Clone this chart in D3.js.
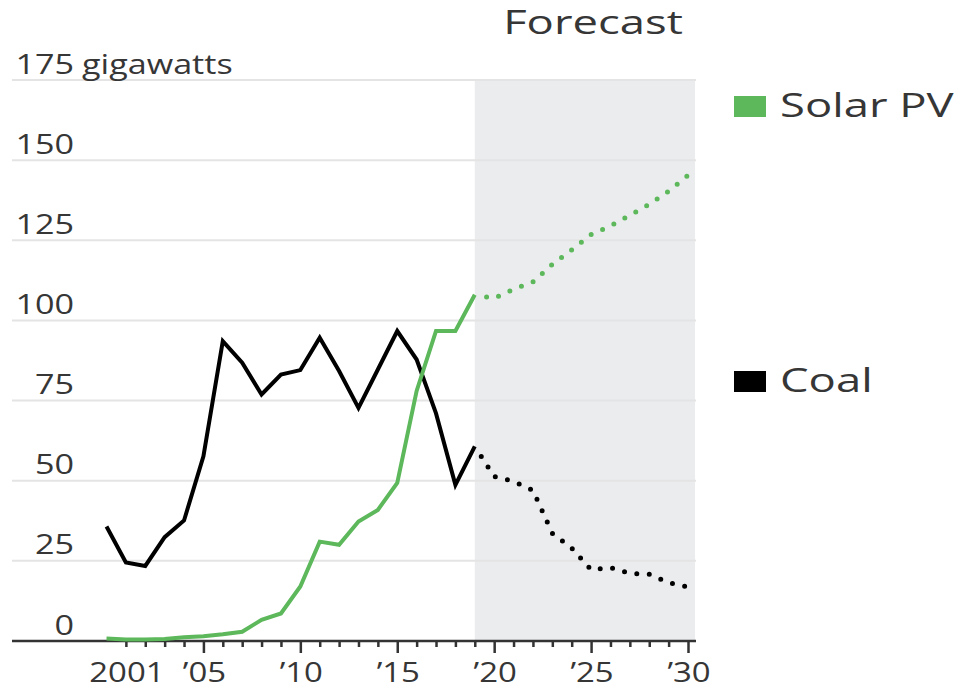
<!DOCTYPE html>
<html>
<head>
<meta charset="utf-8">
<title>Solar PV vs Coal</title>
<script src="https://d3js.org/d3.v7.min.js"></script>
<style>
  body { margin: 0; background: #fff; }
  text { font-family: "Open Sans", "DejaVu Sans", sans-serif; fill: #363636; }
</style>
</head>
<body>
<div id="chart"></div>
<script>
// data (gigawatts)
var actualYears = [2000, 2001, 2002, 2003, 2004, 2005, 2006, 2007, 2008, 2009,
                   2010, 2011, 2012, 2013, 2014, 2015, 2016, 2017, 2018, 2019];
var coalActual  = [35.7, 24.5, 23.4, 32.4, 37.6, 57.6, 93.5, 86.8, 76.9, 83.1,
                   84.5, 94.6, 84.2, 72.7, 84.7, 96.7, 87.8, 71, 48.7, 60.7];
var solarActual = [0.8, 0.5, 0.5, 0.6, 1.2, 1.5, 2.1, 2.9, 6.6, 8.6,
                   17, 31, 30, 37.3, 40.9, 49.3, 78, 96.7, 96.7, 108];

var forecastYears = [2019, 2020, 2021, 2022, 2023, 2024, 2025, 2026, 2027, 2028, 2029, 2030];
var coalForecast  = [60.7, 51.3, 49.8, 47, 33.6, 29, 22.2, 22.9, 21.1, 20.8, 18.2, 16.8];
var solarForecast = [108, 106.9, 109.7, 112, 117.5, 122, 126.8, 129.5, 132.8, 136.2, 140.3, 145.3];

var yTicks = [0, 25, 50, 75, 100, 125, 150, 175];
var xTicks = [2001, 2002, 2003, 2004, 2005, 2006, 2007, 2008, 2009, 2010,
              2011, 2012, 2013, 2014, 2015, 2016, 2017, 2018, 2019, 2020,
              2021, 2022, 2023, 2024, 2025, 2026, 2027, 2028, 2029, 2030];
var xLabels = {2001: "2001", 2005: "\u201905", 2010: "\u201910", 2015: "\u201915",
               2020: "\u201920", 2025: "\u201925", 2030: "\u201930"};

var series = [
  {name: "Solar PV", color: "#5cb85a", actual: solarActual, forecast: solarForecast, legendY: 117},
  {name: "Coal", color: "#000000", actual: coalActual, forecast: coalForecast, legendY: 392}
];

var W = 961, H = 690;
var svg = d3.select("#chart").append("svg")
  .attr("width", W)
  .attr("height", H);

var x = d3.scaleLinear().domain([2000, 2030]).range([106.5, 688]);
var y = d3.scaleLinear().domain([0, 175]).range([641, 80]);
var plotLeft = 12, plotRight = 696;

// the text in the picture is stretched sideways
function label(str, px, py, size, anchor, sx) {
  return svg.append("text")
    .attr("transform", "translate(" + px + "," + py + ") scale(" + sx + ",1)")
    .attr("font-size", size)
    .attr("text-anchor", anchor || "start")
    .text(str);
}
var SX_TICK = 1.22, SX_BIG = 1.42;

// forecast shading
svg.append("rect")
  .attr("x", x(2019))
  .attr("y", y(175))
  .attr("width", plotRight - 1 - x(2019))
  .attr("height", y(0) - y(175))
  .attr("fill", "#ebecee");

// gridlines
svg.append("g").selectAll("line")
  .data(yTicks.filter(function(d) { return d > 0; }))
  .enter().append("line")
    .attr("x1", plotLeft)
    .attr("x2", plotRight)
    .attr("y1", function(d) { return y(d); })
    .attr("y2", function(d) { return y(d); })
    .attr("stroke", "#e4e4e4")
    .attr("stroke-width", 2);

// y labels
yTicks.forEach(function(d) {
  label(String(d), 74, y(d) - 6.5, 28, "end", SX_TICK);
});
label("gigawatts", 82, y(175) - 6.5, 28, "start", SX_TICK);

// x axis
var xAxis = d3.axisBottom(x)
  .tickValues(xTicks)
  .tickSizeOuter(0)
  .tickSize(6)
  .tickFormat("");
var axisG = svg.append("g")
  .attr("transform", "translate(0," + y(0) + ")")
  .call(xAxis);
axisG.select(".domain").remove();
axisG.selectAll(".tick line")
  .attr("stroke", "#333")
  .attr("stroke-width", 2.5)
  .attr("y2", function(d) { return d % 5 === 0 ? 12 : 6; });
axisG.append("line")
  .attr("x1", plotLeft)
  .attr("x2", plotRight)
  .attr("stroke", "#333")
  .attr("stroke-width", 2.5);

Object.keys(xLabels).forEach(function(k) {
  label(xLabels[k], x(+k) + 1, 682, 27, "middle", SX_TICK);
});

label("Forecast", 593, 34, 32, "middle", SX_BIG);

// lines
var line = d3.line()
  .x(function(d) { return x(d[0]); })
  .y(function(d) { return y(d[1]); });

series.slice().reverse().forEach(function(s) {
  svg.append("path")
    .datum(d3.zip(forecastYears, s.forecast))
    .attr("d", line)
    .attr("fill", "none")
    .attr("stroke", s.color)
    .attr("stroke-width", 5)
    .attr("stroke-linecap", "round")
    .attr("stroke-dasharray", "0 12.5")
    .attr("stroke-dashoffset", -12);
  svg.append("path")
    .datum(d3.zip(actualYears, s.actual))
    .attr("d", line)
    .attr("fill", "none")
    .attr("stroke", s.color)
    .attr("stroke-width", 4)
    .attr("stroke-linejoin", "miter");
});

// legend
series.forEach(function(s) {
  svg.append("rect")
    .attr("x", 734)
    .attr("y", s.legendY - 21)
    .attr("width", 32)
    .attr("height", 21)
    .attr("fill", s.color);
  label(s.name, 780, s.legendY, 32, "start", SX_BIG);
});
</script>
</body>
</html>
